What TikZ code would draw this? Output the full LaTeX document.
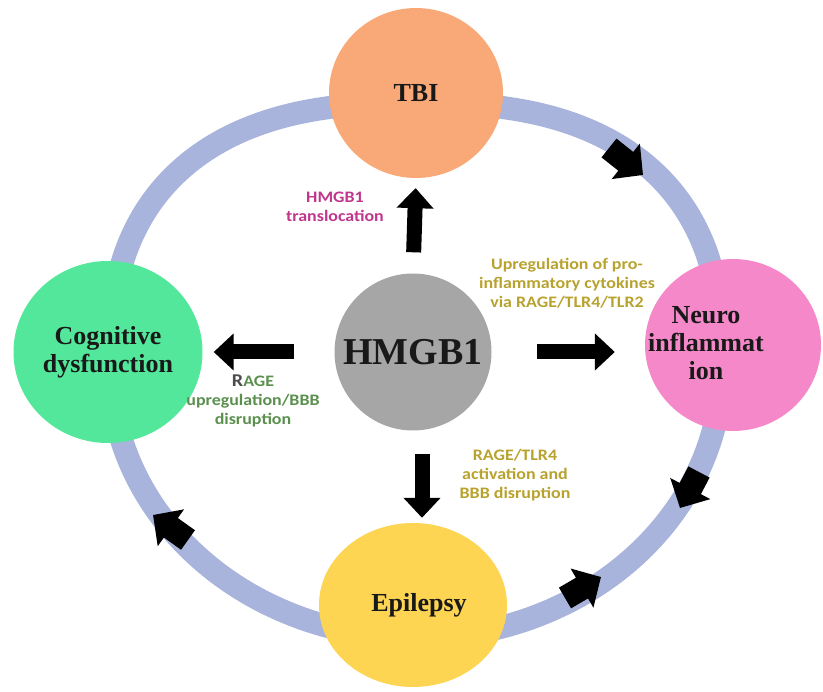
\documentclass[tikz,border=0pt]{standalone}
\usepackage{fontspec}
\setmainfont{Liberation Serif}
\newfontfamily\notefont[FakeStretch=1.12]{Carlito}
\usetikzlibrary{arrows.meta,shapes.geometric}

\definecolor{tbicol}{HTML}{F9A878}
\definecolor{cogcol}{HTML}{52E79B}
\definecolor{neurocol}{HTML}{F588C8}
\definecolor{epicol}{HTML}{FDD553}
\definecolor{hmgbcol}{HTML}{A6A6A6}
\definecolor{ringcol}{HTML}{A8B4DC}
\definecolor{transcol}{HTML}{C0368C}
\definecolor{upcol}{HTML}{B8A22E}
\definecolor{ragecol}{HTML}{5B8F4E}

\begin{document}
\begin{tikzpicture}[x=1pt,y=-1pt,
    stage/.style={ellipse, inner sep=0pt, align=center, text=black!90,
        font=\fontsize{26}{28}\selectfont\bfseries},
    bigarrow/.style={line width=15pt, -{Triangle[width=36pt,length=20pt]}},
    ringarrow/.style={line width=24pt, -{Triangle[width=44pt,length=22pt]}},
    note/.style={align=center, font=\notefont\fontsize{16}{19}\selectfont\bfseries}]

    \useasboundingbox (0,0) rectangle (823,692);

    % the ring: squarer on top, plain ellipse below
    \draw[ringcol, line width=23pt, line join=round]
        plot[domain=0.5:179.5, samples=120, smooth]
            ({416+306*sign(cos(\x))*pow(abs(cos(\x)),0.8)}, {366-263*pow(sin(\x),0.8)})
        -- plot[domain=180:360, samples=80, smooth]
            ({416+306*cos(\x)}, {366-272*sin(\x)}) -- cycle;

    \coordinate (a1s) at (609,148); \coordinate (a1e) at (643,175);
    \coordinate (a2s) at (699,472); \coordinate (a2e) at (680,508);
    \coordinate (a3s) at (565,598); \coordinate (a3e) at (601,577);
    \coordinate (a4s) at (188,540); \coordinate (a4e) at (153,515);
    \draw[ringarrow] (a1s) -- (a1e);
    \draw[ringarrow] (a2s) -- (a2e);
    \draw[ringarrow] (a3s) -- (a3e);
    \draw[ringarrow] (a4s) -- (a4e);

    \node[stage, fill=tbicol, minimum width=174pt, minimum height=170pt] (tbi) at (416,93) {TBI};
    \node[stage, fill=cogcol, minimum width=189pt, minimum height=182pt] (cog) at (108,352) {Cognitive\\dysfunction};
    \node[stage, fill=neurocol, minimum width=176pt, minimum height=172pt] (neuro) at (733,345) {};
    \node[stage] (neurotext) at (706,343) {Neuro\\inflammat\\ion};
    \node[stage, fill=epicol, minimum width=188pt, minimum height=164pt] (epi) at (413,605) {\hspace{12pt}Epilepsy};
    \node[stage, circle, fill=hmgbcol, minimum size=157pt, font=\fontsize{38}{40}\selectfont\bfseries] (hmgb) at (413,352) {HMGB1};

    \draw[bigarrow, shorten <=21pt, shorten >=10pt] (hmgb.north) -- (tbi.south);
    \draw[bigarrow, shorten <=40pt, shorten >=11pt] (hmgb.west) -- (hmgb.west -| cog.east);
    \draw[bigarrow, shorten <=45pt, shorten >=30pt] (hmgb.east) -- (hmgb.east -| neuro.west);
    \draw[bigarrow, shorten <=23pt, shorten >=5pt] ([xshift=9pt]hmgb.south) -- ([xshift=9pt]epi.north);

    \node[note, text=transcol] (translabel) at (335,207) {HMGB1\\translocation};
    \node[note, text=upcol] (uplabel) at (567,283) {Upregulation of pro-\\inflammatory cytokines\\via RAGE/TLR4/TLR2};
    \node[note, text=ragecol] (ragelabel) at (253,401) {{\color{black!70}\fontsize{18}{19}\selectfont R}AGE\\upregulation/BBB\\disruption};
    \node[note, text=upcol] (actlabel) at (515,475) {RAGE/TLR4\\activation and\\BBB disruption};
\end{tikzpicture}
\end{document}
